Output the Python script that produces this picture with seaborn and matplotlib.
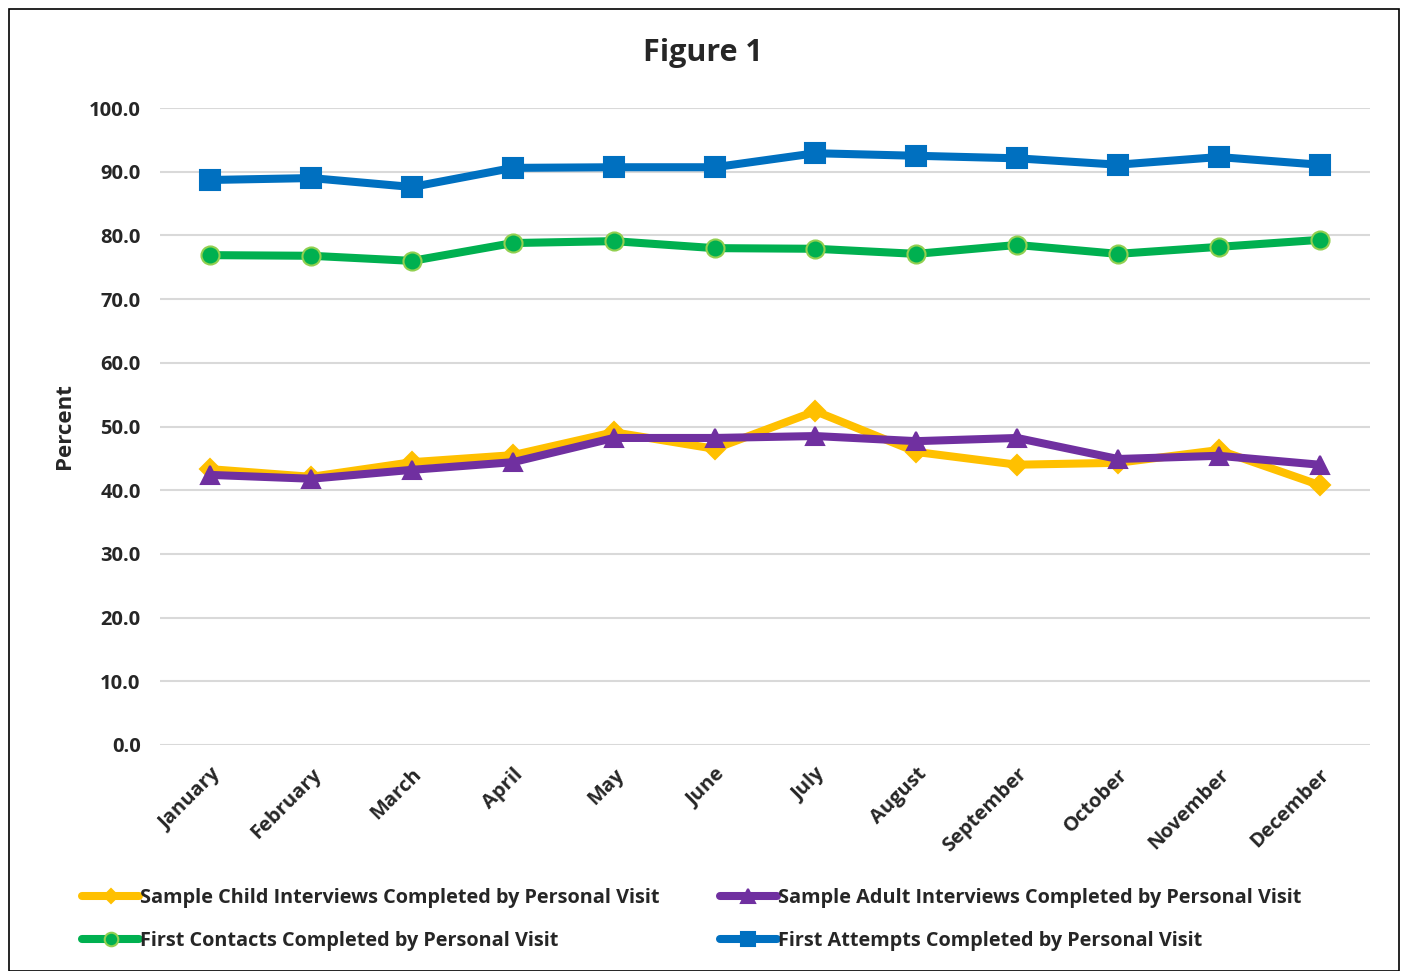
import matplotlib
matplotlib.use("Agg")
import matplotlib.pyplot as plt
import seaborn as sns
import pandas as pd
from matplotlib.patches import Rectangle

months = ["January", "February", "March", "April", "May", "June", "July",
          "August", "September", "October", "November", "December"]
child = [43.3, 42.1, 44.4, 45.5, 49.1, 46.5, 52.4, 46.0, 44.0, 44.3, 46.3, 40.8]
adult = [42.4, 41.8, 43.2, 44.4, 48.2, 48.2, 48.5, 47.7, 48.2, 44.9, 45.4, 44.0]
contacts = [76.9, 76.8, 76.0, 78.8, 79.1, 78.0, 77.9, 77.1, 78.5, 77.1, 78.2, 79.3]
attempts = [88.7, 89.0, 87.6, 90.6, 90.7, 90.7, 92.9, 92.5, 92.1, 91.1, 92.3, 91.1]

names = ["Sample Child Interviews Completed by Personal Visit",
         "Sample Adult Interviews Completed by Personal Visit",
         "First Contacts Completed by Personal Visit",
         "First Attempts Completed by Personal Visit"]
series = [child, adult, contacts, attempts]
colors = ["#FFC000", "#7030A0", "#00B050", "#0070C0"]
markers = ["D", "^", "o", "s"]
msizes = [10, 13, 13, 14]
medges = ["#FFC000", "#7030A0", "#92D050", "#0070C0"]

sns.set_theme(style="white")
plt.rcParams['font.family'] = ['Open Sans', 'DejaVu Sans']
plt.rcParams['font.weight'] = 'bold'

fig = plt.figure(figsize=(14.03, 9.71), dpi=100)
ax = fig.add_axes([160/1403, 1 - 745/971, 1210/1403, (745-108)/971])

df = pd.DataFrame({"x": list(range(12)) * 4,
                   "y": sum(series, []),
                   "s": sum([[n] * 12 for n in names], [])})

for n, c, m, ms, me, s in zip(names, colors, markers, msizes, medges, series):
    d = df[df["s"] == n]
    sns.lineplot(data=d, x="x", y="y", ax=ax, color=c, linewidth=5.8,
                 marker=m, markersize=ms, markeredgecolor=me,
                 markeredgewidth=1.5, label=n, zorder=3)

ax.set_xlim(-0.5, 11.5)
ax.set_ylim(0, 100)
ax.set_yticks(range(0, 101, 10))
ax.set_yticklabels([f"{v:.1f}" for v in range(0, 101, 10)], fontsize=14.5, fontweight="bold")
ax.tick_params(axis="y", pad=8)
ax.set_xticks(range(12))
ax.set_xticklabels(months, rotation=45, ha="right", rotation_mode="anchor",
                   fontsize=14.5, fontweight="bold")
ax.tick_params(axis="x", pad=8)
ax.grid(axis="y", color="#D9D9D9", linewidth=1.5, zorder=0)
ax.set_axisbelow(True)
for sp in ax.spines.values():
    sp.set_visible(False)
ax.set_xlabel("")
ax.set_ylabel("Percent", fontsize=16, fontweight="bold", labelpad=10)

fig.text(703/1403, 1 - 53/971, "Figure 1", ha="center", va="center",
         fontsize=22, fontweight="bold")

handles, labels = ax.get_legend_handles_labels()
order = [0, 2, 1, 3]
ax.legend([handles[i] for i in order], [labels[i] for i in order],
          loc="upper left", bbox_to_anchor=(64/1403, 1 - 870/971),
          bbox_transform=fig.transFigure, ncol=2, frameon=False,
          handlelength=2.9, handletextpad=0.05, columnspacing=3.0,
          labelspacing=1.15, markerscale=0.75, prop={"weight": "bold", "size": 14.3})

fig.patches.append(Rectangle((9/1403, 0), 1390/1403, 1 - 9/971, transform=fig.transFigure,
                             fill=False, edgecolor="black", linewidth=1.2))

fig.savefig("out.png", dpi=100)
